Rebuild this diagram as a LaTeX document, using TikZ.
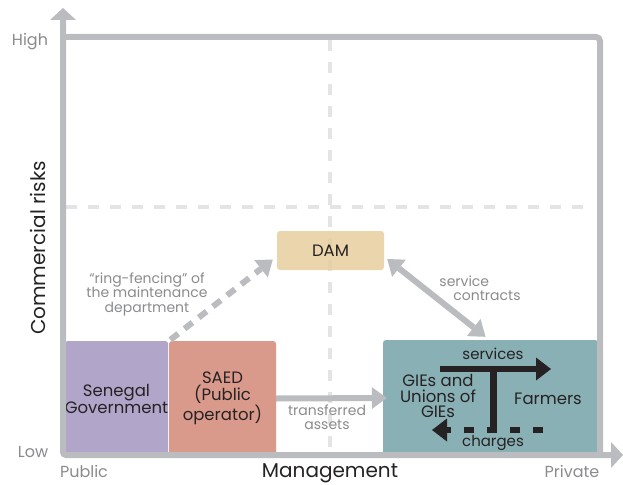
\documentclass[tikz,border=0pt]{standalone}
\usepackage{fontspec}
\setmainfont{Poppins}
\usetikzlibrary{arrows.meta}

\definecolor{axisgray}{RGB}{187,188,192}
\definecolor{gridgray}{RGB}{227,228,230}
\definecolor{labelgray}{RGB}{138,139,142}
\definecolor{inkdark}{RGB}{38,34,35}
\definecolor{govpurple}{RGB}{177,166,201}
\definecolor{saedsalmon}{RGB}{217,154,140}
\definecolor{damtan}{RGB}{230,206,159}
\definecolor{gieteal}{RGB}{137,176,181}

\begin{document}
\begin{tikzpicture}[x=1pt,y=-1pt,
	axisline/.style={ draw=axisgray, line width=6pt },
	gridline/.style={ draw=gridgray, line width=4pt, dash pattern=on 11pt off 11pt },
	actor/.style={ rounded corners=3pt, inner sep=0pt, align=center, text=inkdark, font=\fontsize{16.5}{17}\selectfont },
	actortxt/.style={ inner sep=0pt, align=center, text=inkdark, font=\fontsize{16.5}{15.5}\selectfont },
	axislbl/.style={ inner sep=0pt, text=labelgray, font=\fontsize{16}{16}\selectfont },
	axistitle/.style={ inner sep=0pt, text=inkdark, font=\fontsize{20}{20}\selectfont },
	notetxt/.style={ inner sep=0pt, align=center, text=labelgray, font=\fontsize{14}{14.5}\selectfont },
	flowtxt/.style={ inner sep=0pt, text=inkdark, font=\fontsize{15}{15}\selectfont },
	grayflow/.style={ draw=axisgray, line width=6pt, -{Triangle[length=15pt,width=22pt,line width=0pt]} },
	blackflow/.style={ draw=inkdark, line width=6.5pt, -{Triangle[length=15pt,width=23pt,line width=0pt]} }
]
\useasboundingbox (0,0) rectangle (623,484);

% quadrant grid
\draw[gridline] (66,207) to (583,207);
\draw[gridline] (330,40) to (330,452);

% actors
\node[actor, fill=govpurple, minimum width=103pt, minimum height=115pt] at (116.5,398.5) (gov) {Senegal\\Government};
\node[actor, fill=saedsalmon, minimum width=107pt, minimum height=115pt] at (222.5,398.5) (saed) {SAED\\(Public\\operator)};
\node[actor, fill=damtan, fill opacity=0.85, text opacity=1, minimum width=107pt, minimum height=39pt] at (330.5,250.5) (dam) {DAM};
\node[actor, fill=gieteal, minimum width=215pt, minimum height=116pt] at (490.5,398) (gie) {};
\draw[draw=gieteal!85!black, line width=1.5pt] ([yshift=-3pt]gie.north east) to (gie.south east);
\node[actortxt] at (438,396) (gietxt) {GIEs and\\Unions of\\GIEs};
\node[actortxt] at (548,399) (farm) {Farmers};

% frame and axes
\draw[axisline, rounded corners=4pt] (63,37) to (600,37) to (600,455);
\coordinate (ytop) at (63,8);
\coordinate (orig) at (63,455);
\coordinate (xend) at (623,455);
\draw[axisline, rounded corners=3pt, {Triangle[length=12pt,width=26pt,line width=0pt]}-{Triangle[length=12pt,width=26pt,line width=0pt]}] (ytop) -- (orig) -- (xend);

% axis labels
\node[axislbl] at (30,42) (high) {High};
\node[axislbl] at (33,452) (low) {Low};
\node[axislbl] at (84,471) (pub) {Public};
\node[axislbl] at (572,471) (priv) {Private};
\node[axistitle] at (330,473) (mgmt) {Management};
\node[axistitle, rotate=90] at (38,248) (risk) {Commercial risks};

% relations between actors
\draw[grayflow, dash pattern=on 10pt off 8pt] ([xshift=2pt,yshift=1pt]gov.north east) to ([xshift=-4pt,yshift=-9pt]dam.west);
\node[notetxt] at (147,294) (ringtxt) {“ring-fencing” of\\the maintenance\\department};
\draw[grayflow, {Triangle[length=15pt,width=22pt,line width=0pt]}-{Triangle[length=15pt,width=22pt,line width=0pt]}] ([xshift=3pt,yshift=-8.5pt]dam.east) to ([xshift=-5pt,yshift=3pt]gie.north);
\node[notetxt, align=left] at (480,288) (svctxt) {service\\\hspace*{14pt}contracts};
\draw[grayflow] (saed.east) to ([xshift=4pt]gie.west);
\node[notetxt] at (327,417) (asstxt) {transferred\\assets};

% flows inside the GIE box
\coordinate (srvA) at (440,369);
\coordinate (srvB) at (551,369);
\coordinate (stemT) at (493,366);
\coordinate (stemB) at (493,433);
\coordinate (chgA) at (543,430);
\coordinate (chgB) at (432,430);
\draw[blackflow] (srvA) to (srvB);
\draw[draw=inkdark, line width=7pt] (stemT) to (stemB);
\draw[blackflow, dash pattern=on 10pt off 13pt] (chgA) to (chgB);
\node[flowtxt] at (493,354) (srvtxt) {services};
\node[flowtxt] at (493,443) (chgtxt) {charges};

\end{tikzpicture}
\end{document}
